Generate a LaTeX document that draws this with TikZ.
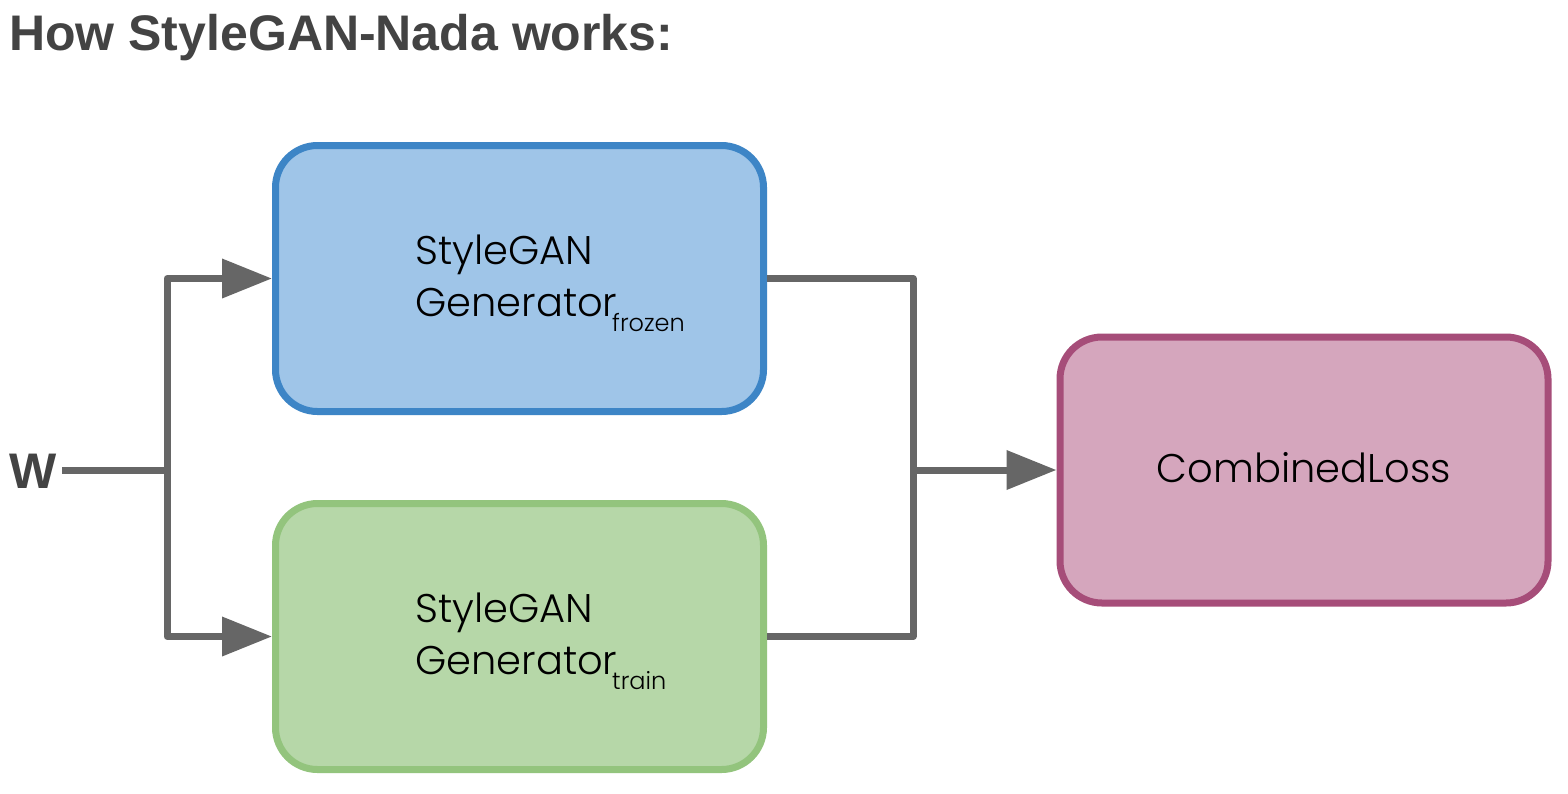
\documentclass[tikz,border=0pt]{standalone}
\usepackage{fontspec}
\setmainfont{Poppins}[UprightFont=* Light]
\newfontfamily\titlefont{Liberation Sans}
\usetikzlibrary{arrows.meta}
\definecolor{linegray}{HTML}{666666}
\definecolor{titlegray}{HTML}{434343}
\definecolor{bluefill}{HTML}{9FC5E8}
\definecolor{blueline}{HTML}{3D85C6}
\definecolor{greenfill}{HTML}{B6D7A8}
\definecolor{greenline}{HTML}{93C47D}
\definecolor{pinkfill}{HTML}{D5A6BD}
\definecolor{pinkline}{HTML}{A64D79}
\begin{document}
\begin{tikzpicture}[x=1pt,y=-1pt,
  genbox/.style={draw, line width=7pt, rounded corners=42pt, minimum width=488pt, minimum height=266pt, inner sep=0pt},
  conn/.style={draw=linegray, line width=7pt, line join=round},
  arr/.style={conn, -{Triangle[length=50pt,width=38pt]}},
  lbl/.style={inner sep=0pt, anchor=base west, font=\fontsize{40}{48}\selectfont},
  sub/.style={inner sep=0pt, anchor=base west, font=\fontsize{24}{28}\selectfont},
  bigtitle/.style={inner sep=0pt, anchor=base west, text=titlegray, font=\titlefont\bfseries\fontsize{50}{56}\selectfont}]
\useasboundingbox (0,0) rectangle (1568,793);
\fill[white] (0,0) rectangle (1568,793);

\node[bigtitle] (title) at (9,50) {How StyleGAN-Nada works:};

\node[genbox, draw=blueline, fill=bluefill] (gen1) at (519.5,278.5) {};
\node[genbox, draw=greenline, fill=greenfill] (gen2) at (519.5,636.5) {};
\node[genbox, draw=pinkline, fill=pinkfill] (loss) at (1304,470) {};

\node[lbl] (g1a) at (415,264) {StyleGAN};
\node[lbl] (g1b) at (415,316) {Generator};
\node[sub] (g1s) at (612,331) {frozen};
\node[lbl] (g2a) at (415,622) {StyleGAN};
\node[lbl] (g2b) at (415,674) {Generator};
\node[sub] (g2s) at (612,689) {train};
\node[lbl, anchor=base] (lt) at (1304,482) {CombinedLoss};

\node[bigtitle] (w) at (9,488) {W};

\coordinate (wstart) at (62,470);
\coordinate (split) at (167,470);
\coordinate (merge) at (913,470);

\draw[conn] (wstart) -- (split);
\draw[arr] (split) |- (gen1.west);
\draw[arr] (split) |- (gen2.west);
\draw[conn] (gen1.east) -| (merge) |- (gen2.east);
\draw[arr] (merge) -- (loss.west);
\end{tikzpicture}
\end{document}
